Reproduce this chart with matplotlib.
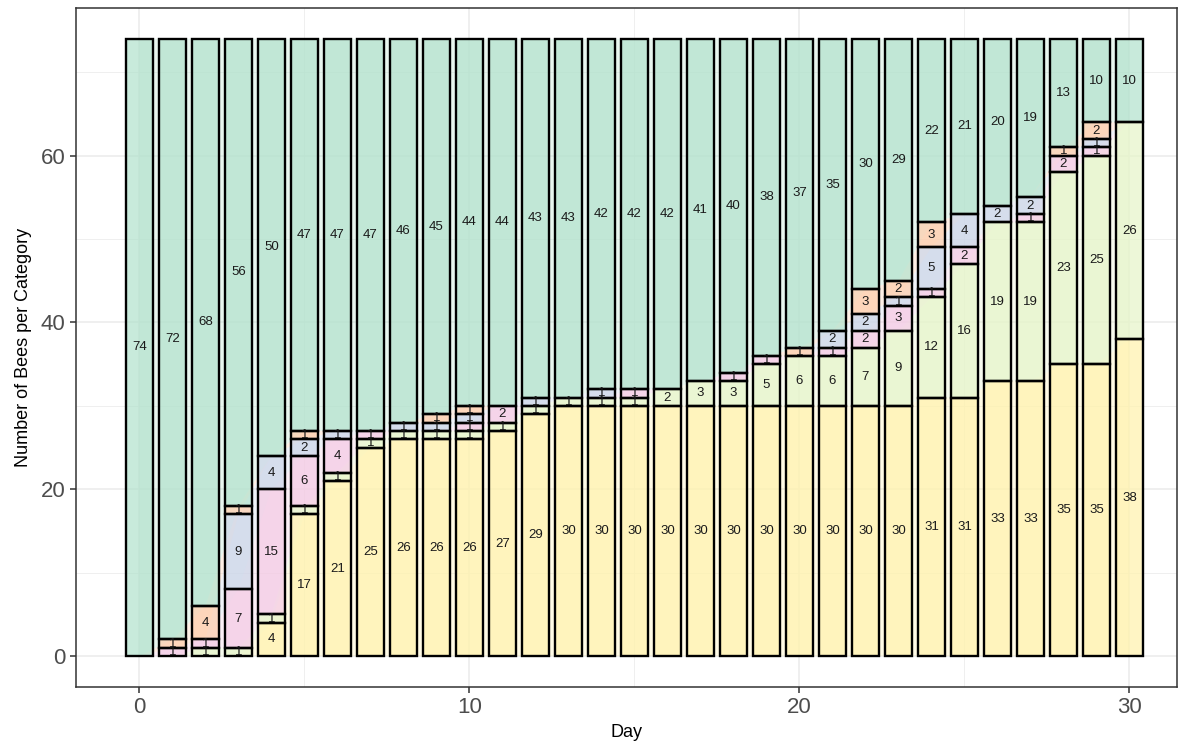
import numpy as np
import matplotlib
matplotlib.use("Agg")
import matplotlib.pyplot as plt

plt.rcParams['font.family'] = ['Liberation Sans', 'DejaVu Sans']

days = list(range(31))

# Bee counts per category, bottom of the stack first
cat_yellow = [0, 0, 0, 0, 4, 17, 21, 25, 26, 26, 26, 27, 29, 30, 30, 30, 30, 30, 30, 30,
              30, 30, 30, 30, 31, 31, 33, 33, 35, 35, 38]
cat_green = [0, 0, 1, 1, 1, 1, 1, 1, 1, 1, 1, 1, 1, 1, 1, 1, 2, 3, 3, 5,
             6, 6, 7, 9, 12, 16, 19, 19, 23, 25, 26]
cat_pink = [0, 1, 1, 7, 15, 6, 4, 1, 0, 0, 1, 2, 0, 0, 0, 1, 0, 0, 1, 1,
            0, 1, 2, 3, 1, 2, 0, 1, 2, 1, 0]
cat_blue = [0, 0, 0, 9, 4, 2, 1, 0, 1, 1, 1, 0, 1, 0, 1, 0, 0, 0, 0, 0,
            0, 2, 2, 1, 5, 4, 2, 2, 0, 1, 0]
cat_orange = [0, 1, 4, 1, 0, 1, 0, 0, 0, 1, 1, 0, 0, 0, 0, 0, 0, 0, 0, 0,
              1, 0, 3, 2, 3, 0, 0, 0, 1, 2, 0]
cat_teal = [74, 72, 68, 56, 50, 47, 47, 47, 46, 45, 44, 44, 43, 43, 42, 42, 42, 41, 40, 38,
            37, 35, 30, 29, 22, 21, 20, 19, 13, 10, 10]

series = [cat_yellow, cat_green, cat_pink, cat_blue, cat_orange, cat_teal]
colors = ['#FFF2AE', '#E6F5C9', '#F4CAE4', '#CBD5E8', '#FDCDAC', '#B3E2CD']

fig = plt.figure(figsize=(11.89, 7.54), dpi=100)
ax = fig.add_axes([76 / 1189, 1 - 687 / 754, (1177 - 76) / 1189, (687 - 8) / 754])

x = np.array(days, dtype=float)

# faint stacked area behind the bars
ax.stackplot(x, *[np.array(s, dtype=float) for s in series], colors=colors,
             alpha=0.3, linewidth=0, zorder=1)

bottom = np.zeros(len(days))
for vals, col in zip(series, colors):
    v = np.array(vals, dtype=float)
    keep = v > 0
    ax.bar(x[keep], v[keep], bottom=bottom[keep], width=0.8, color=col, alpha=0.72,
           edgecolor='none', zorder=2)
    ax.bar(x[keep], v[keep], bottom=bottom[keep], width=0.8, facecolor='none',
           edgecolor='black', linewidth=1.7, zorder=3)
    for xi, vi, bi in zip(x[keep], v[keep], bottom[keep]):
        ax.text(xi, bi + vi / 2, f"{int(vi)}", ha='center', va='center',
                fontsize=9.5, color='#1a1a1a', zorder=4)
    bottom = bottom + v

ax.set_xlim(-1.92, 31.44)
ax.set_ylim(-3.7, 77.7)

ax.set_xticks([0, 10, 20, 30])
ax.set_yticks([0, 20, 40, 60])
ax.set_xticks([5, 15, 25], minor=True)
ax.set_yticks([10, 30, 50, 70], minor=True)

ax.grid(which='major', color='#EBEBEB', linewidth=1.1, zorder=0)
ax.grid(which='minor', color='#EBEBEB', linewidth=0.55, zorder=0)
ax.set_axisbelow(True)

for sp in ax.spines.values():
    sp.set_color('#333333')
    sp.set_linewidth(1.1)

ax.tick_params(which='major', length=4, width=1.1, color='#333333',
               labelsize=16, labelcolor='#4D4D4D')
ax.tick_params(which='minor', length=0)

ax.set_xlabel('Day', fontsize=13, color='black', labelpad=4)
ax.set_ylabel('Number of Bees per Category', fontsize=13, color='black', labelpad=6)

fig.savefig('out.png', dpi=100)
